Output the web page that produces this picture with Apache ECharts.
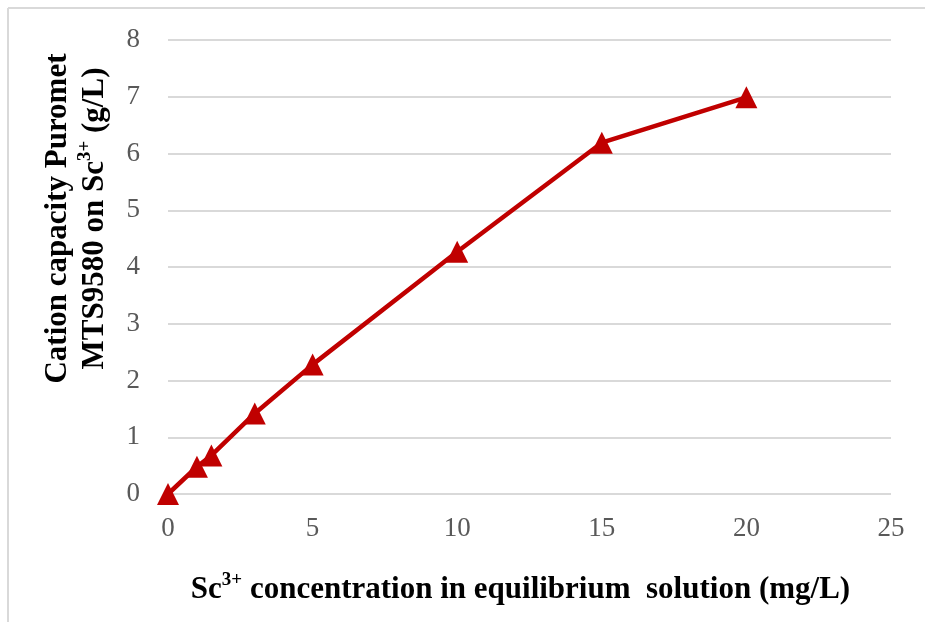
<!DOCTYPE html>
<html><head><meta charset="utf-8">
<script src="https://cdn.jsdelivr.net/npm/echarts@6/dist/echarts.min.js"></script>
<style>html,body{margin:0;padding:0;background:#fff}#c{width:925px;height:622px}</style>
</head><body><div id="c"></div>
<script>
const concentration = [0, 1, 1.5, 3, 5, 10, 15, 20];
const capacity = [0, 0.48, 0.68, 1.42, 2.28, 4.27, 6.19, 6.99];
const xTicks = [0, 5, 10, 15, 20, 25];
const yTicks = [0, 1, 2, 3, 4, 5, 6, 7, 8];

const chart = echarts.init(document.getElementById('c'));
const serif = '"Liberation Serif", "Times New Roman", serif';
const richTitle = {
  b: {fontFamily: serif, fontWeight: 'bold', fontSize: 31, color: '#000', lineHeight: 37, verticalAlign: 'bottom'},
  sup: {fontFamily: serif, fontWeight: 'bold', fontSize: 19, color: '#000', lineHeight: 19, verticalAlign: 'bottom', padding: [0, 0, 15, 0]}
};
chart.setOption({
  animation: false,
  backgroundColor: '#fff',
  graphic: [
    {type: 'line', shape: {x1: 8, y1: 8, x2: 925, y2: 8}, style: {stroke: '#d9d9d9', lineWidth: 2}},
    {type: 'line', shape: {x1: 8, y1: 8, x2: 8, y2: 622}, style: {stroke: '#d9d9d9', lineWidth: 2}}
  ],
  grid: {left: 168, right: 34, top: 40, bottom: 128},
  xAxis: {
    type: 'value', min: xTicks[0], max: xTicks[xTicks.length - 1], interval: 5,
    axisLine: {show: false}, axisTick: {show: false}, splitLine: {show: false},
    axisLabel: {color: '#595959', fontFamily: serif, fontSize: 27, margin: 21},
    name: '{b|Sc}{sup|3+}{b| concentration in equilibrium  solution (mg/L)}',
    nameLocation: 'middle', nameGap: 74,
    nameTextStyle: {padding: [0, 18, 0, 0], rich: richTitle}
  },
  yAxis: {
    type: 'value', min: yTicks[0], max: yTicks[yTicks.length - 1], interval: 1,
    axisLine: {show: false}, axisTick: {show: false},
    splitLine: {lineStyle: {color: '#d9d9d9', width: 2}},
    axisLabel: {color: '#595959', fontFamily: serif, fontSize: 27, margin: 28},
    name: '{b|Cation capacity Puromet}\n{b|MTS9580 on Sc}{sup|3+}{b| (g/L)}',
    nameLocation: 'middle', nameGap: 58, nameRotate: 90,
    nameTextStyle: {padding: [0, 0, 0, 97], rich: richTitle}
  },
  series: [{
    type: 'line',
    data: concentration.map((x, i) => [x, capacity[i]]),
    symbol: 'triangle', symbolSize: 22,
    lineStyle: {color: '#c00000', width: 4.5},
    itemStyle: {color: '#c00000'}
  }]
});
</script></body></html>
